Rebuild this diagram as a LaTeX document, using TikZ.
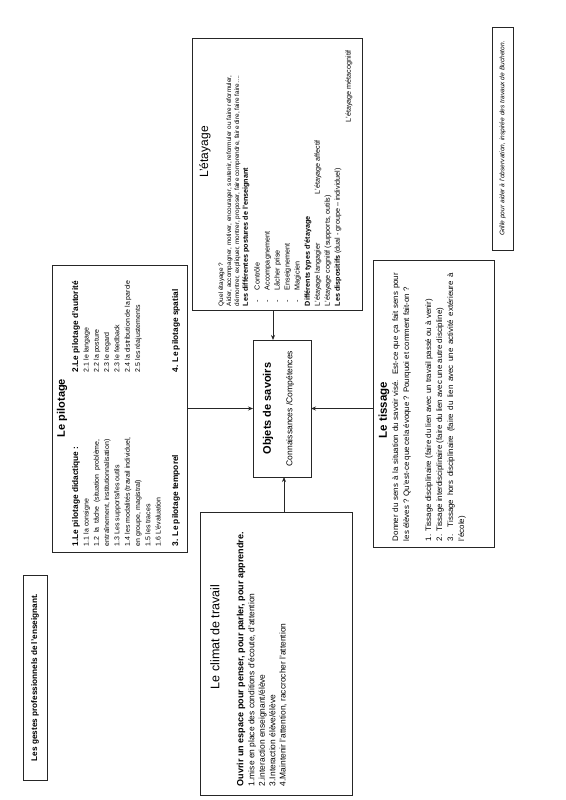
\documentclass[tikz,border=0pt]{standalone}
\usepackage{fontspec}
\setmainfont{Liberation Sans}
\usetikzlibrary{arrows.meta}
\newcommand\myfs[2]{\fontsize{#1}{#2}\selectfont}
\newlength\plw
\newlength\tsw
\begin{document}
\settowidth\plw{\myfs{7}{10}entraînement, institutionnalisation)}
\setlength\tsw{268pt}
\begin{tikzpicture}[x=1pt,y=-1pt,
  box/.style={draw=black!85,line width=0.8pt,inner sep=0pt,outer sep=0pt},
  rt/.style={rotate=90,anchor=north west,inner sep=0pt,outer sep=0pt,align=left,text=black},
  rl/.style={rotate=90,anchor=west,inner sep=0pt,outer sep=0pt,text=black},
  rc/.style={rotate=90,anchor=center,inner sep=0pt,outer sep=0pt,text=black},
  arr/.style={draw=black!85,line width=0.8pt,-{Stealth[length=5pt,width=4pt]}}]
\fill[white] (0,0) rectangle (565,800);
\useasboundingbox (0,0) rectangle (565,800);

% boxes
\node[box,minimum width=24pt,minimum height=205pt] (ges) at (35,677.5) {};
\node[box,minimum width=135pt,minimum height=287pt] (pil) at (119.5,408.5) {};
\node[box,minimum width=170pt,minimum height=272pt] (eta) at (277,174) {};
\node[box,minimum width=58pt,minimum height=137pt] (obj) at (282,408.5) {};
\node[box,minimum width=121pt,minimum height=287pt] (tis) at (433.5,403.5) {};
\node[box,minimum width=152pt,minimum height=283pt] (cli) at (276,653.5) {};
\node[box,minimum width=21pt,minimum height=223pt] (gri) at (502.5,138.5) {};

% small boxes text
\node[rc,font=\bfseries\myfs{8.2}{9}] (tges) at (ges.center) {Les gestes professionnels de l'enseignant.};
\node[rc,font=\itshape\myfs{6.6}{7}] (tgri) at (gri.center) {Grille pour aider à l'observation, inspirée des travaux de Bucheton.};

% pilotage
\node[rc,font=\bfseries\myfs{11}{12}] (tpil) at (62,408) {Le pilotage};
\node[rl,font=\bfseries\myfs{8.3}{9}] (p1h) at (76,546) {1.Le pilotage didactique :};
\node[rt,font=\myfs{7}{10.3}] (p1b) at (83.5,546) {1.1 la consigne\\\makebox[\plw][s]{1.2 la tâche (situation problème,}\\entraînement, institutionnalisation)\\1.3 Les supports/les outils\\1.4 les modalités (travail individuel,\\en groupe, magistral)\\1.5 les traces\\1.6 L'évaluation};
\node[rl,font=\bfseries\myfs{8.3}{9}] (p3) at (176,546) {3. Le pilotage temporel};
\node[rl,font=\bfseries\myfs{8.3}{9}] (p2h) at (76,372) {2.Le pilotage d'autorité};
\node[rt,font=\myfs{7}{10.3}] (p2b) at (83.5,372) {2.1 le langage\\2.2 la posture\\2.3 le regard\\2.3 le feedback\\2.4 la distribution de la parole\\2.5 les réajustements};
\node[rl,font=\bfseries\myfs{8.3}{9}] (p4) at (176,372) {4. Le pilotage spatial};

% etayage
\node[rc,font=\myfs{12}{13}] (teta) at (205,152) {L'étayage};
\node[rt,font=\myfs{6.4}{8}] (e1) at (218.5,306) {Quel étayage ?\\Aider, accompagner, motiver, encourager, soutenir, reformuler ou faire reformuler,\\démontrer, expliquer, montrer, proposer, faire comprendre, faire dire, faire faire….};
\node[rl,font=\bfseries\myfs{7.2}{8}] (e2) at (246,306) {Les différentes postures de l'enseignant};
\node[rt,font=\myfs{7.2}{10}] (e3) at (254.5,302) {\makebox[12pt][l]{-}Contrôle\\\makebox[12pt][l]{-}Accompagnement\\\makebox[12pt][l]{-}Lâcher prise\\\makebox[12pt][l]{-}Enseignement\\\makebox[12pt][l]{-}Magicien};
\node[rl,font=\bfseries\myfs{7.2}{8}] (e4) at (308,306) {Différents types d'étayage};
\node[rt,font=\myfs{7.2}{10}] (e5) at (314.5,306) {\makebox[112pt][l]{L'étayage langagier}L'étayage affectif\\L'étayage cognitif (supports, outils)\\\textbf{Les dispositifs} (dual - groupe – individuel)};
\node[rl,font=\myfs{7.2}{8}] (e6) at (349,122) {L'étayage métacognitif};

% tissage
\node[rc,font=\bfseries\myfs{11.5}{12}] (ttis) at (384,410) {Le tissage};
\node[rt,font=\myfs{7.9}{11}] (t1) at (392.3,541) {\makebox[\tsw][s]{Donner du sens à la situation du savoir visé. Est-ce que ça fait sens pour}\\les élèves ? Qu'est-ce que cela évoque ? Pourquoi et comment fait-on ?\\[11pt]1. Tissage disciplinaire (faire du lien avec un travail passé ou à venir)\\2. Tissage interdisciplinaire (faire du lien avec une autre discipline)\\\makebox[\tsw][s]{3. Tissage hors disciplinaire (faire du lien avec une activité extérieure à}\\l'école)};

% climat
\node[rc,font=\myfs{12.5}{14}] (tcli) at (215,637) {Le climat de travail};
\node[rl,font=\bfseries\myfs{9}{10}] (c1) at (241,786) {Ouvrir un espace pour penser, pour parler, pour apprendre.};
\node[rt,font=\myfs{8.4}{10.4}] (c2) at (248.3,786) {1.mise en place des conditions d'écoute, d'attention\\2.interaction enseignant/élève\\3.Interaction élève/élève\\4.Maintenir l'attention, raccrocher l'attention};

% objets
\node[rc,font=\bfseries\myfs{11}{12}] (tobj) at (268,408.5) {Objets de savoirs};
\node[rc,font=\myfs{8.5}{9}] (sobj) at (290,408.5) {Connaissances /Compétences};

% arrows
\coordinate (ea) at ([xshift=-9pt]obj.north);
\draw[arr] (ea |- eta.south) -- (ea);
\coordinate (ca) at ([xshift=2pt]obj.south);
\draw[arr] (ca |- cli.north) -- (ca);
\draw[arr] (pil.east |- obj.west) -- (obj.west);
\draw[arr] (tis.west |- obj.east) -- (obj.east);
\end{tikzpicture}
\end{document}
